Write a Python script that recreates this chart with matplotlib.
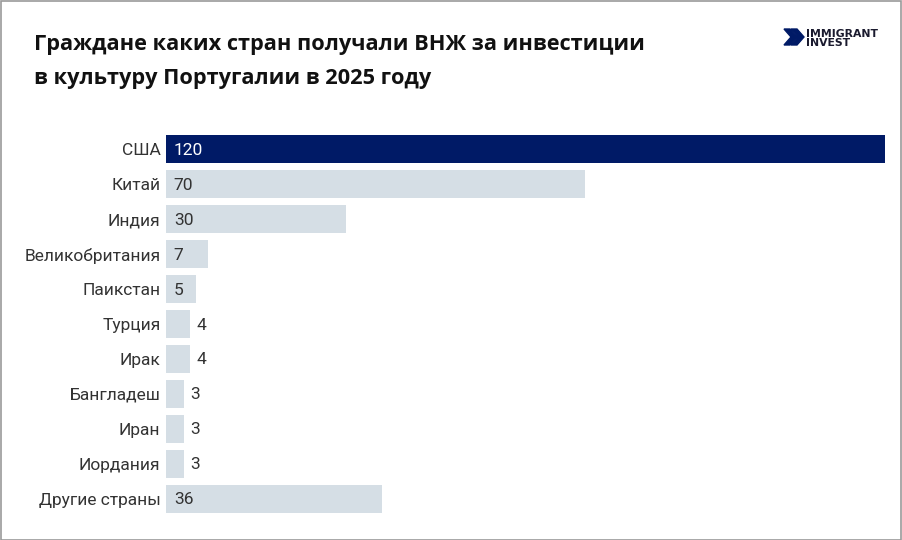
import matplotlib.pyplot as plt
from matplotlib.patches import Polygon, Rectangle

plt.rcParams['font.family'] = ['Roboto', 'DejaVu Sans']

countries = ['США', 'Китай', 'Индия', 'Великобритания', 'Паикстан', 'Турция',
             'Ирак', 'Бангладеш', 'Иран', 'Иордания', 'Другие страны']
values = [120, 70, 30, 7, 5, 4, 4, 3, 3, 3, 36]
title_lines = ['Граждане каких стран получали ВНЖ за инвестиции',
               'в культуру Португалии в 2025 году']

NAVY = '#001a66'
LIGHT = '#d5dee5'
TEXT = '#333333'

fig = plt.figure(figsize=(9.02, 5.40), dpi=100)
W, H = 902, 540

# axes: x from 166 to 886 px, bars from y ~132 to ~517
ax = fig.add_axes([166 / W, 1 - 516 / H, 720 / W, 384 / H])
y = list(range(len(countries)))
colors = [NAVY] + [LIGHT] * (len(countries) - 1)
ax.barh(y, values, height=0.8, color=colors)
ax.set_xlim(0, 120.2)
ax.set_ylim(len(countries) - 0.5, -0.5)

for i, v in enumerate(values):
    if v >= 5:
        ax.text(1.3, i + 0.03, str(v), va='center', ha='left', fontsize=12.5,
                color='white' if i == 0 else TEXT)
    else:
        ax.text(v + 1.1, i + 0.03, str(v), va='center', ha='left', fontsize=12.5, color=TEXT)

ax.set_yticks(y)
ax.set_yticklabels(countries, fontsize=12.5, color=TEXT)
ax.tick_params(axis='y', length=0, pad=4)
ax.set_xticks([])
for s in ax.spines.values():
    s.set_visible(False)

# title, one text per line
for k, line in enumerate(title_lines):
    fig.text(34 / W, 1 - (50 + 34 * k) / H, line, fontsize=15.7, fontweight='bold',
             family=['Open Sans', 'DejaVu Sans'], color='#111111',
             va='baseline', ha='left')

# logo
for k, word in enumerate(['IMMIGRANT', 'INVEST']):
    fig.text(806 / W, 1 - (37 + 9 * k) / H, word, fontsize=7.8, fontweight='bold',
             family=['DejaVu Sans'], color='#1a1a2e', va='baseline', ha='left')
for dx in (0, 7):
    pts = [(784 + dx, 29), (790 + dx, 29), (797 + dx, 37), (790 + dx, 45),
           (784 + dx, 45), (791 + dx, 37)]
    fig.patches.append(Polygon([(px / W, 1 - py / H) for px, py in pts], closed=True,
                               transform=fig.transFigure, color=NAVY))

# border
fig.patches.append(Rectangle((0.5 / W, 0.5 / H), 1 - 1.5 / W, 1 - 1.5 / H, fill=False,
                             edgecolor='#999999', linewidth=1.2,
                             transform=fig.transFigure))

fig.savefig('out.png', dpi=100)
